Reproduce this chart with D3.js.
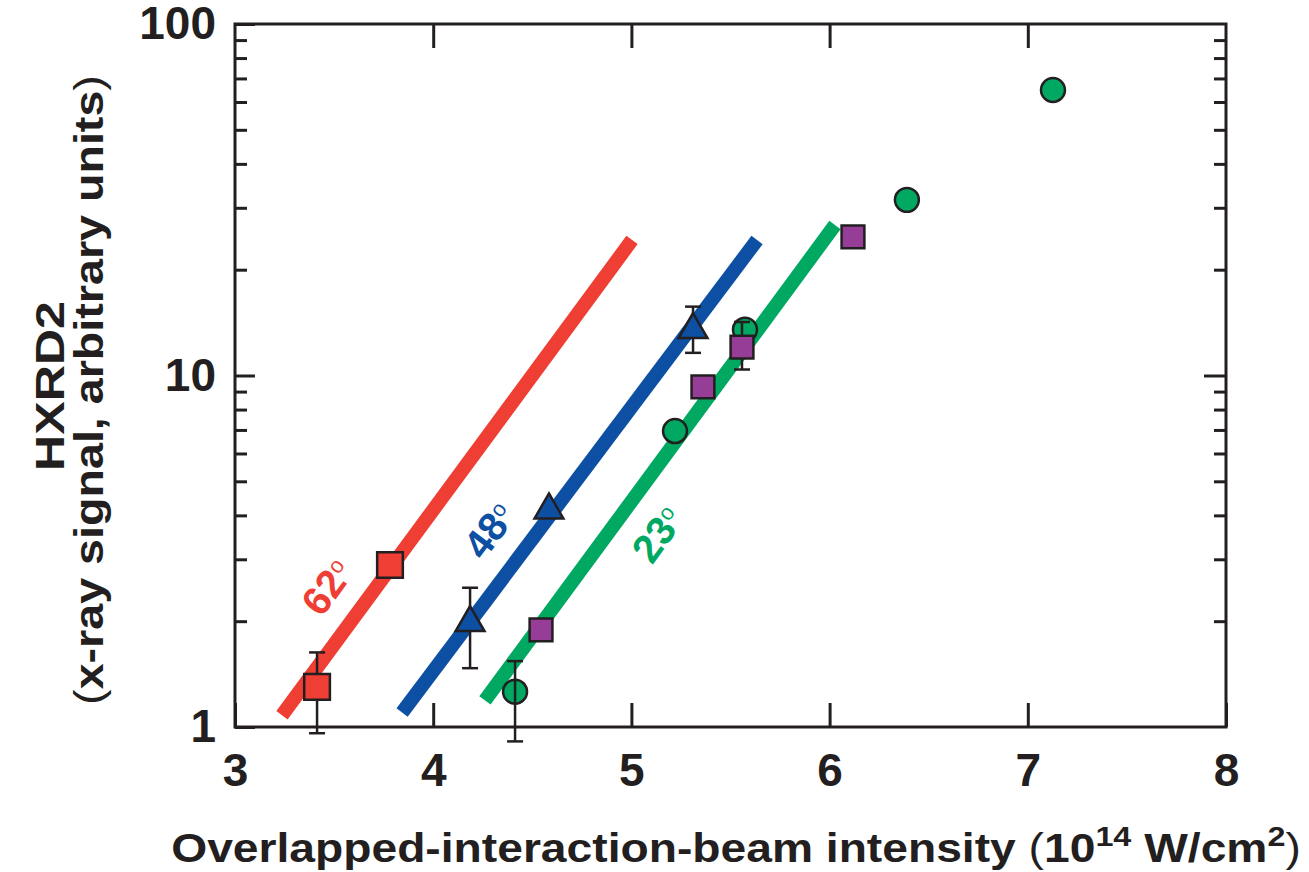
<!DOCTYPE html>
<html>
<head>
<meta charset="utf-8">
<script src="https://cdn.jsdelivr.net/npm/d3@7"></script>
<style>
  body { margin: 0; background: #fff; }
</style>
</head>
<body>
<div class="main"></div>
<script>
// Layout
const width = 1309;
const height = 872;
const margin = { top: 24, right: 83, bottom: 145, left: 235 };
const ink = '#231f20';
const font = '"Liberation Sans", Arial, Helvetica, sans-serif';

// Axis ticks
const xTicks = [3, 4, 5, 6, 7, 8];
const yMajor = [1, 10, 100];
const yMinor = [2, 3, 4, 5, 6, 7, 8, 9, 20, 30, 40, 50, 60, 70, 80, 90];

// Fit lines (one per angle)
const fitLabels = ['62', '48', '23'];
const fitX0 = [3.237, 3.843, 4.261];
const fitY0 = [1.08, 1.10, 1.19];
const fitX1 = [5.003, 5.634, 6.027];
const fitY1 = [24.3, 24.3, 26.8];

// Measurements
const redX = [3.414, 3.782];
const redY = [1.30, 2.89];
const redLo = [0.96, null];
const redHi = [1.63, null];

const blueX = [4.186, 4.584, 5.311];
const blueY = [1.98, 4.14, 13.5];
const blueLo = [1.47, null, 11.6];
const blueHi = [2.49, null, 15.7];

const greenX = [4.413, 5.22, 5.573, 6.39, 7.127];
const greenY = [1.26, 6.95, 13.5, 31.6, 64.9];
const greenLo = [0.91, null, null, null, null];
const greenHi = [1.54, null, null, null, null];

const purpleX = [4.544, 5.361, 5.558, 6.118];
const purpleY = [1.89, 9.28, 12.05, 24.8];
const purpleLo = [null, null, 10.4, null];
const purpleHi = [null, null, 14.2, null];

const colors = { red: '#ef3e33', blue: '#0c4fa3', green: '#00a862', purple: '#953d97' };

const svg = d3.select('.main')
  .append('svg')
  .attr('width', width)
  .attr('height', height)
  .style('font-family', font);

const x = d3.scaleLinear()
  .domain([3, 8])
  .range([margin.left, width - margin.right]);

const y = d3.scaleLog()
  .domain([1, 100])
  .range([height - margin.bottom, margin.top]);

const x0 = x.range()[0], x1 = x.range()[1];
const y0 = y.range()[0], y1 = y.range()[1];

// Fit lines
const fitColors = [colors.red, colors.blue, colors.green];
const labelT = [0.22, 0.335, 0.40];
const labelSide = [-1, -1, 1];

fitLabels.forEach((lab, i) => {
  const ax = x(fitX0[i]), ay = y(fitY0[i]);
  const bx = x(fitX1[i]), by = y(fitY1[i]);
  svg.append('line')
    .attr('x1', ax).attr('y1', ay)
    .attr('x2', bx).attr('y2', by)
    .attr('stroke', fitColors[i])
    .attr('stroke-width', 14);

  // label placed along the line, pushed off to one side
  const len = Math.hypot(bx - ax, by - ay);
  const ux = (bx - ax) / len, uy = (by - ay) / len;
  const ang = Math.atan2(by - ay, bx - ax) * 180 / Math.PI;
  const px = ax + (bx - ax) * labelT[i] - labelSide[i] * uy * 40;
  const py = ay + (by - ay) * labelT[i] + labelSide[i] * ux * 40;
  const t = svg.append('text')
    .attr('transform', `translate(${px},${py}) rotate(${ang})`)
    .attr('text-anchor', 'middle')
    .attr('dy', '0.36em')
    .attr('fill', fitColors[i])
    .style('font-size', '40px')
    .style('font-weight', 'bold');
  t.append('tspan').text(lab);
  t.append('tspan')
    .attr('dy', '-0.55em')
    .style('font-size', '22px')
    .style('font-weight', 'normal')
    .text('o');
});

// Markers and error bars
function errorBars(xs, ys, lo, hi) {
  const g = svg.append('g').attr('stroke', ink).attr('stroke-width', 2.5);
  xs.forEach((v, i) => {
    if (lo[i] == null) return;
    const cx = x(v);
    g.append('line').attr('x1', cx).attr('x2', cx).attr('y1', y(lo[i])).attr('y2', y(hi[i]));
    g.append('line').attr('x1', cx - 8).attr('x2', cx + 8).attr('y1', y(lo[i])).attr('y2', y(lo[i]));
    g.append('line').attr('x1', cx - 8).attr('x2', cx + 8).attr('y1', y(hi[i])).attr('y2', y(hi[i]));
  });
}

function markers(xs, ys, type, size, fill) {
  svg.append('g')
    .selectAll('path')
    .data(xs.map((v, i) => [v, ys[i]]))
    .enter()
    .append('path')
    .attr('d', d3.symbol(type, size))
    .attr('transform', d => `translate(${x(d[0])},${y(d[1])})`)
    .attr('fill', fill)
    .attr('stroke', ink)
    .attr('stroke-width', 2.5);
}

errorBars(redX, redY, redLo, redHi);
markers(redX, redY, d3.symbolSquare, 660, colors.red);

errorBars(blueX, blueY, blueLo, blueHi);
markers(blueX, blueY, d3.symbolTriangle, 360, colors.blue);

markers(greenX, greenY, d3.symbolCircle, 450, colors.green);
errorBars(greenX, greenY, greenLo, greenHi);

errorBars(purpleX, purpleY, purpleLo, purpleHi);
markers(purpleX, purpleY, d3.symbolSquare, 520, colors.purple);

// Axes
function styleAxis(g) {
  g.select('.domain').remove();
  g.selectAll('.tick line').attr('stroke', ink).attr('stroke-width', 3);
  g.selectAll('.tick text')
    .attr('fill', ink)
    .style('font-size', '46px')
    .style('font-weight', 'bold')
    .style('font-family', font);
}

svg.append('g')
  .attr('transform', `translate(0,${y0})`)
  .call(d3.axisBottom(x).tickValues(xTicks).tickSize(-24).tickPadding(26).tickFormat(d3.format('d')))
  .call(styleAxis);

svg.append('g')
  .attr('transform', `translate(0,${y1})`)
  .call(d3.axisTop(x).tickValues(xTicks.slice(1, -1)).tickSize(-24).tickFormat(''))
  .call(styleAxis);

svg.append('g')
  .attr('transform', `translate(${x0},0)`)
  .call(d3.axisLeft(y).tickValues(yMajor).tickSize(-20).tickPadding(19).tickFormat(d3.format('d')))
  .call(styleAxis);

svg.append('g')
  .attr('transform', `translate(${x0},0)`)
  .call(d3.axisLeft(y).tickValues(yMinor).tickSize(-12).tickFormat(''))
  .call(styleAxis);

svg.append('g')
  .attr('transform', `translate(${x1},0)`)
  .call(d3.axisRight(y).tickValues([10]).tickSize(-22).tickFormat(''))
  .call(styleAxis);

svg.append('g')
  .attr('transform', `translate(${x1},0)`)
  .call(d3.axisRight(y).tickValues(yMinor).tickSize(-12).tickFormat(''))
  .call(styleAxis);

// Frame
svg.append('rect')
  .attr('x', x0).attr('y', y1)
  .attr('width', x1 - x0).attr('height', y0 - y1)
  .attr('fill', 'none')
  .attr('stroke', ink)
  .attr('stroke-width', 3);

// Axis titles (stretched horizontally to the reference's wider lettering)
function stretch(sel, base, want) {
  const w = sel.node().getBBox().width;
  sel.attr('transform', `${base} scale(${want / w},1)`);
}

const xt = svg.append('text')
  .attr('text-anchor', 'middle')
  .attr('fill', ink)
  .style('font-size', '40px')
  .style('font-weight', 'bold');
xt.append('tspan').text('Overlapped-interaction-beam intensity ');
xt.append('tspan').style('font-weight', 'normal').text('(');
xt.append('tspan').text('10');
xt.append('tspan').attr('dy', -16).style('font-size', '28px').text('14');
xt.append('tspan').attr('dy', 16).text(' W/cm');
xt.append('tspan').attr('dy', -16).style('font-size', '28px').text('2');
xt.append('tspan').attr('dy', 16).style('font-weight', 'normal').text(')');
stretch(xt, 'translate(736,862)', 1130);

const yt1 = svg.append('text')
  .attr('text-anchor', 'middle')
  .attr('fill', ink)
  .style('font-size', '40px')
  .style('font-weight', 'bold')
  .text('HXRD2');
stretch(yt1, 'translate(64,386) rotate(-90)', 170);

const yt2 = svg.append('text')
  .attr('text-anchor', 'middle')
  .attr('fill', ink)
  .style('font-size', '40px')
  .style('font-weight', 'bold');
yt2.append('tspan').style('font-weight', 'normal').text('(');
yt2.append('tspan').text('x-ray signal, arbitrary units');
yt2.append('tspan').style('font-weight', 'normal').text(')');
stretch(yt2, 'translate(103,390) rotate(-90)', 630);
</script>
</body>
</html>
